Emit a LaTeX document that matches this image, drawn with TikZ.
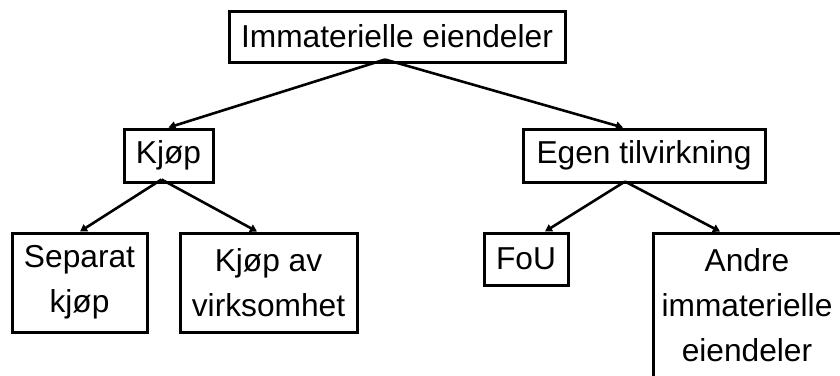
\documentclass[tikz,border=0pt]{standalone}
\usepackage{fontspec}
\setmainfont{Liberation Sans}
\usetikzlibrary{arrows.meta,calc}
\tikzset{
  box/.style={draw=black, line width=3pt, inner sep=0pt, align=center,
    font=\fontsize{31.7}{45}\selectfont},
  link/.style={line width=2.6pt, -{Triangle[length=7pt,width=8pt]}}
}
\begin{document}
\begin{tikzpicture}[x=1pt,y=-1pt]
\useasboundingbox (0,0) rectangle (840,375);
\clip (0,0) rectangle (840,375);
\fill[white] (0,0) rectangle (840,375);

% boxes
\node[box, minimum width=336pt, minimum height=51pt] (top) at (397,36.5) {Immaterielle eiendeler};
\node[box, minimum width=89pt, minimum height=53pt] (kjop) at (168.5,155.5) {Kjøp};
\node[box, minimum width=242pt, minimum height=53pt] (egen) at (644,155.5) {Egen tilvirkning};
\node[box, minimum width=135pt, minimum height=99pt] (sep) at (79.5,282.5) {Separat\\kjøp};
\node[box, minimum width=177pt, minimum height=99pt] (kav) at (268.5,282.5) {Kjøp av\\virksomhet};
\node[box, minimum width=84pt, minimum height=52pt] (fou) at (526,259) {FoU};
\node[box, minimum width=188pt, minimum height=144pt] (andre) at (747,305) {Andre\\immaterielle\\eiendeler};

% start and end points of the connectors
\coordinate (topout) at ($(top.south)+(-12,-4)$);
\coordinate (kjopin) at ($(kjop.north)+(0,0)$);
\coordinate (egenin) at ($(egen.north)+(-21,0)$);
\coordinate (kjopout) at ($(kjop.south)+(-7,-4)$);
\coordinate (egenout) at ($(egen.south)+(-19,-2)$);
\coordinate (sepin) at ($(sep.north)+(0.5,0)$);
\coordinate (kavin) at ($(kav.north)+(-11.5,0)$);
\coordinate (fouin) at ($(fou.north)+(19,0)$);
\coordinate (andrein) at ($(andre.north)+(-27,0)$);

% connectors
\draw[link] (topout) -- (kjopin);
\draw[link] (topout) -- (egenin);
\draw[link] (kjopout) -- (sepin);
\draw[link] (kjopout) -- (kavin);
\draw[link] (egenout) -- (fouin);
\draw[link] (egenout) -- (andrein);
\end{tikzpicture}
\end{document}
